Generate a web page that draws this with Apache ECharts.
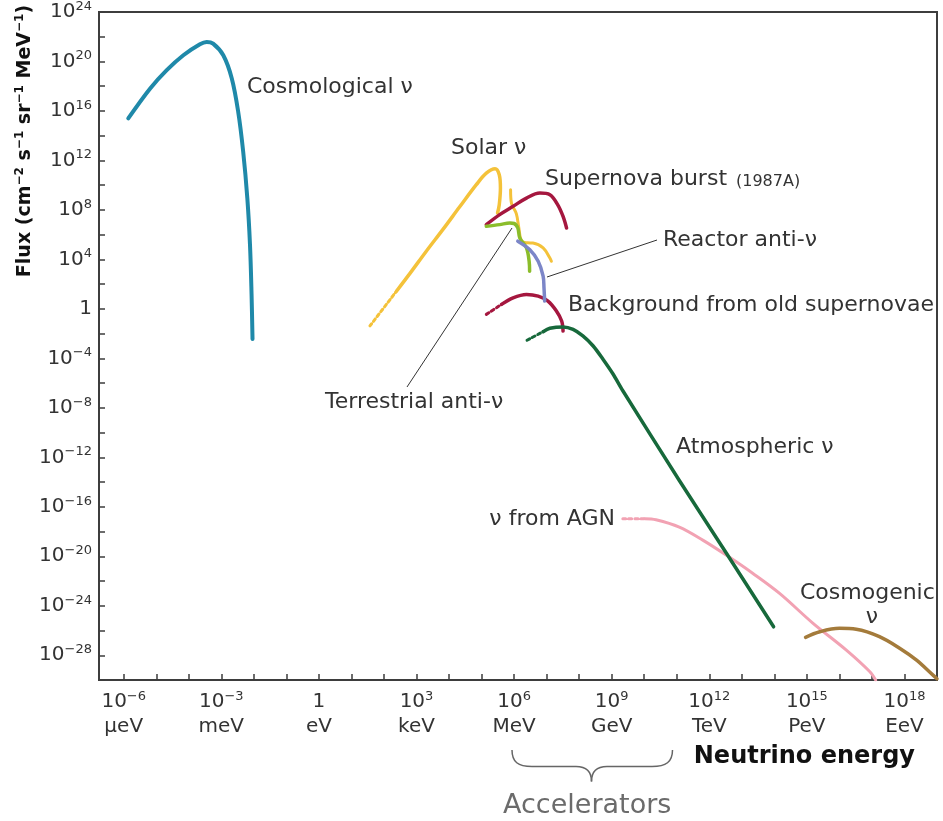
<!DOCTYPE html>
<html><head><meta charset="utf-8">
<script src="https://cdn.jsdelivr.net/npm/echarts@6/dist/echarts.min.js"></script>
<style>html,body{margin:0;padding:0;background:#fff}#c{width:943px;height:821px}</style>
</head><body><div id="c"></div>
<script>
// ---- tick labels ----
const xTickValues = [1e-6,1e-5,1e-4,1e-3,1e-2,1e-1,1,1e1,1e2,1e3,1e4,1e5,1e6,1e7,1e8,1e9,1e10,1e11,1e12,1e13,1e14,1e15,1e16,1e17,1e18];
const xLabelValues = [1e-6,1e-3,1,1e3,1e6,1e9,1e12,1e15,1e18];
const xUnits = ['µeV','meV','eV','keV','MeV','GeV','TeV','PeV','EeV'];
const yTickValues = [1e-30,1e-28,1e-26,1e-24,1e-22,1e-20,1e-18,1e-16,1e-14,1e-12,1e-10,1e-8,1e-6,1e-4,1e-2,1,1e2,1e4,1e6,1e8,1e10,1e12,1e14,1e16,1e18,1e20,1e22,1e24];
const yLabelValues = [1e-28,1e-24,1e-20,1e-16,1e-12,1e-8,1e-4,1,1e4,1e8,1e12,1e16,1e20,1e24];

// ---- series (energy in eV, flux in cm^-2 s^-1 sr^-1 MeV^-1) ----
const cosmoE = [1.38e-6,6.5e-6,2.1e-5,6.8e-5,2.2e-4,3.55e-4,5.6e-4,1.15e-3,2.1e-3,3.3e-3,4.7e-3,6.3e-3,7.6e-3,8.5e-3,9.1e-3];
const cosmoF = [2.5e15,6.6e17,2.0e19,3.2e20,2.5e21,3.8e21,2.8e21,3.2e20,4.3e18,8.7e15,5.2e12,9.1e8,1.7e5,16,3.7e-3];

const solarDotE = [37,245];
const solarDotF = [4.2e-2,28];
const solarE = [245,630,2.0e3,6.6e3,2.1e4,6.9e4,1.4e5,2.6e5,3.5e5,3.8e5,3.5e5,3.1e5];
const solarF = [28,7.4e2,4.6e4,2.8e6,1.7e8,1.1e10,9.3e10,2.1e11,6.9e10,5.8e9,2.6e8,5.6e7];
const solar2E = [7.8e5,8.3e5,1.17e6,1.4e6,1.7e6,2.6e6,3.8e6,7.8e6,1.26e7,1.4e7];
const solar2F = [4.3e9,3.5e8,5.0e7,3.5e6,3.0e5,2.2e5,2.1e5,8.5e4,1.3e4,7.1e3];

const snBurstE = [1.4e5,3.6e5,9.3e5,2.4e6,6.2e6,1.26e7,2.2e7,3.2e7,4.1e7];
const snBurstF = [6.5e6,4.2e7,1.95e8,9.1e8,2.3e9,1.7e9,2.6e8,3.0e7,3.5e6];

const terrE = [1.4e5,3.6e5,7.4e5,1.0e6,1.3e6,1.5e6,2.4e6,2.9e6,3.0e6];
const terrF = [4.8e6,6.5e6,8.7e6,8.0e6,3.5e6,5.4e5,8.5e4,7.1e3,1.1e3];

const reactorE = [1.3e6,3.0e6,5.5e6,7.8e6,8.3e6,8.7e6];
const reactorF = [3.0e5,6.3e4,7.1e3,4.5e2,50,4.3];

const bgDotE = [1.4e5,4.1e5];
const bgDotF = [0.36,2.3];
const bgE = [4.1e5,9.3e5,2.4e6,5.5e6,1.1e7,2.0e7,2.9e7,3.2e7];
const bgF = [2.3,7.9,14.8,10.7,4.3,0.68,0.105,0.016];

const atmDotE = [2.5e6,7.8e6];
const atmDotF = [2.9e-3,1.45e-2];
const atmE = [7.8e6,1.26e7,3.2e7,6.5e7,1.3e8,2.7e8,5.4e8,1.1e9,2.2e9,1.2e11,3.4e12,9.5e13];
const atmF = [1.45e-2,2.7e-2,3.5e-2,2.2e-2,6.5e-3,1.0e-3,8.5e-5,5.4e-6,2.4e-7,1.35e-14,1.7e-20,2.0e-26];

const agnDotE = [2.2e9,1.05e10];
const agnDotF = [1.1e-17,1.1e-17];
const agnE = [1.05e10,2.3e10,1.2e11,6.5e11,3.4e12,2.2e13,1.45e14,1.55e15,1.6e16,8.5e16,1.3e17];
const agnF = [1.1e-17,9.1e-18,2.3e-18,1.95e-19,1.2e-20,4.1e-22,1.0e-23,3.8e-26,2.7e-28,4.8e-30,1e-30];

const cgE = [9.1e14,2.5e15,1.0e16,3.3e16,1.7e17,7.1e17,2.3e18,7.4e18,1e19];
const cgF = [2.8e-27,7.9e-27,1.5e-26,1.26e-26,3.2e-27,3.7e-28,4.2e-29,2.6e-30,1.26e-30];

// ---- helpers ----
function expOf(v){ return Math.round(Math.log10(v)); }
function powRich(v){
  const e = expOf(v);
  if (e === 0) return '{b|1}';
  return '{b|10}{s|' + String(e).replace('-', '−') + '}';
}
const zip = (a,b) => a.map((v,i) => [v,b[i]]);
const FONT = 'DejaVu Sans';
const richTick = {
  b:{fontFamily:FONT, fontSize:20, lineHeight:24, color:'#333'},
  s:{fontFamily:FONT, fontSize:13, lineHeight:15, verticalAlign:'top', color:'#333'},
  u:{fontFamily:FONT, fontSize:20, lineHeight:25, color:'#333'}
};

function lineSeries(name, E, F, color, width, dotted, z, smooth){
  return {
    name, type:'line', data: zip(E,F), showSymbol:false, symbol:'none',
    smooth: smooth == null ? 0.35 : smooth, z: z || 2,
    lineStyle:{color, width, type: dotted ? 'dotted' : 'solid', cap:'round', join:'round'},
    silent:true, animation:false
  };
}
function txt(x, y, text, font, fill, align){
  return {type:'text', x, y, style:{text, font, fill: fill || '#333', textAlign: align || 'left', textVerticalAlign:'middle', align: align || 'left', verticalAlign:'middle'}};
}
const F22 = '22px "DejaVu Sans"';
const braceStyle = {stroke:'#666', lineWidth:1.5, fill:null};

const chart = echarts.init(document.getElementById('c'), null, {renderer:'canvas'});
const option = {
  animation:false,
  backgroundColor:'#fff',
  grid:{left:99, top:10, right:6, bottom:141, show:true, borderColor:'#3d3d3d', borderWidth:2, containLabel:false},
  xAxis:{
    type:'log', logBase:10, min:1.738e-7, max:1e19,
    axisLine:{show:true, lineStyle:{color:'#3d3d3d', width:2}},
    axisTick:{show:true, inside:true, length:6, lineStyle:{color:'#3d3d3d', width:1.5}, customValues:xTickValues},
    axisLabel:{
      customValues:xLabelValues, margin:10, showMinLabel:true, showMaxLabel:true, rich:richTick,
      formatter:(v) => {
        const i = xLabelValues.findIndex(t => expOf(t) === expOf(v));
        return powRich(v) + '\n{u|' + (i >= 0 ? xUnits[i] : '') + '}';
      }
    },
    splitLine:{show:false}
  },
  yAxis:{
    type:'log', logBase:10, min:1e-30, max:1.02e24,
    axisLine:{show:true, lineStyle:{color:'#3d3d3d', width:2}},
    axisTick:{show:true, inside:true, length:6, lineStyle:{color:'#3d3d3d', width:1.5}, customValues:yTickValues},
    axisLabel:{customValues:yLabelValues, margin:7, showMinLabel:true, showMaxLabel:true, rich:richTick, formatter:(v) => powRich(v)},
    splitLine:{show:false}
  },
  series:[
    lineSeries('Cosmological ν', cosmoE, cosmoF, '#1f89a9', 4),
    lineSeries('Solar ν (low)', solarDotE, solarDotF, '#f4c23a', 3, true),
    lineSeries('Solar ν', solarE, solarF, '#f4c23a', 3.5),
    lineSeries('Solar ν (8B)', solar2E, solar2F, '#f4c23a', 3),
    lineSeries('Supernova burst', snBurstE, snBurstF, '#a5173f', 3.5, false, 3),
    lineSeries('Terrestrial anti-ν', terrE, terrF, '#8bbd2b', 3.5, false, 4),
    lineSeries('Reactor anti-ν', reactorE, reactorF, '#7c86c8', 3.5, false, 4),
    lineSeries('Background (low)', bgDotE, bgDotF, '#a5173f', 3, true),
    lineSeries('Background from old supernovae', bgE, bgF, '#a5173f', 3.5),
    lineSeries('Atmospheric (low)', atmDotE, atmDotF, '#17693b', 3, true),
    lineSeries('ν from AGN (low)', agnDotE, agnDotF, '#f2a2b3', 3, true),
    lineSeries('ν from AGN', agnE, agnF, '#f2a2b3', 3),
    lineSeries('Atmospheric ν', atmE, atmF, '#17693b', 3.5, false, 5, 0.3),
    lineSeries('Cosmogenic ν', cgE, cgF, '#a47b3b', 3.5)
  ],
  graphic:[
    txt(247, 87, 'Cosmological ν', F22),
    txt(451, 148, 'Solar ν', F22),
    txt(545, 179, 'Supernova burst', F22),
    txt(736, 182, '(1987A)', '16px "DejaVu Sans"'),
    txt(663, 240, 'Reactor anti-ν', F22),
    txt(568, 305, 'Background from old supernovae', F22),
    txt(325, 402, 'Terrestrial anti-ν', F22),
    txt(676, 447, 'Atmospheric ν', F22),
    txt(615, 519, 'ν from AGN', F22, null, 'right'),
    txt(800, 593, 'Cosmogenic', F22),
    txt(872, 617, 'ν', F22, null, 'center'),
    {type:'line', shape:{x1:407, y1:387, x2:512, y2:228}, style:{stroke:'#333', lineWidth:1}},
    {type:'line', shape:{x1:547, y1:277, x2:657, y2:240}, style:{stroke:'#333', lineWidth:1}},
    txt(915, 757, 'Neutrino energy', 'bold 24px "DejaVu Sans"', '#111', 'right'),
    {type:'bezierCurve', shape:{x1:512, y1:750, cpx1:512, cpy1:762, cpx2:518, cpy2:766.5, x2:532, y2:766.5}, style:braceStyle},
    {type:'line', shape:{x1:532, y1:766.5, x2:576, y2:766.5}, style:braceStyle},
    {type:'bezierCurve', shape:{x1:576, y1:766.5, cpx1:586, cpy1:766.5, cpx2:591.5, cpy2:771, x2:591.5, y2:781.5}, style:braceStyle},
    {type:'bezierCurve', shape:{x1:591.5, y1:781.5, cpx1:591.5, cpy1:771, cpx2:597, cpy2:766.5, x2:607, y2:766.5}, style:braceStyle},
    {type:'line', shape:{x1:607, y1:766.5, x2:652, y2:766.5}, style:braceStyle},
    {type:'bezierCurve', shape:{x1:652, y1:766.5, cpx1:666, cpy1:766.5, cpx2:672.5, cpy2:762, x2:672.5, y2:750}, style:braceStyle},
    txt(503, 806, 'Accelerators', '27px "DejaVu Sans"', '#6b6b6b'),
    {type:'text', x:25, y:141, rotation:Math.PI/2, style:{
      text:'{b|Flux (cm}{s|−2}{b| s}{s|−1}{b| sr}{s|−1}{b| MeV}{s|−1}{b|)}',
      rich:{
        b:{font:'bold 19px "DejaVu Sans"', fill:'#111', lineHeight:22},
        s:{font:'bold 12px "DejaVu Sans"', fill:'#111', lineHeight:14, verticalAlign:'top'}
      },
      textAlign:'center', textVerticalAlign:'middle', align:'center', verticalAlign:'middle'}}
  ]
};
chart.setOption(option);
</script>
</body></html>
